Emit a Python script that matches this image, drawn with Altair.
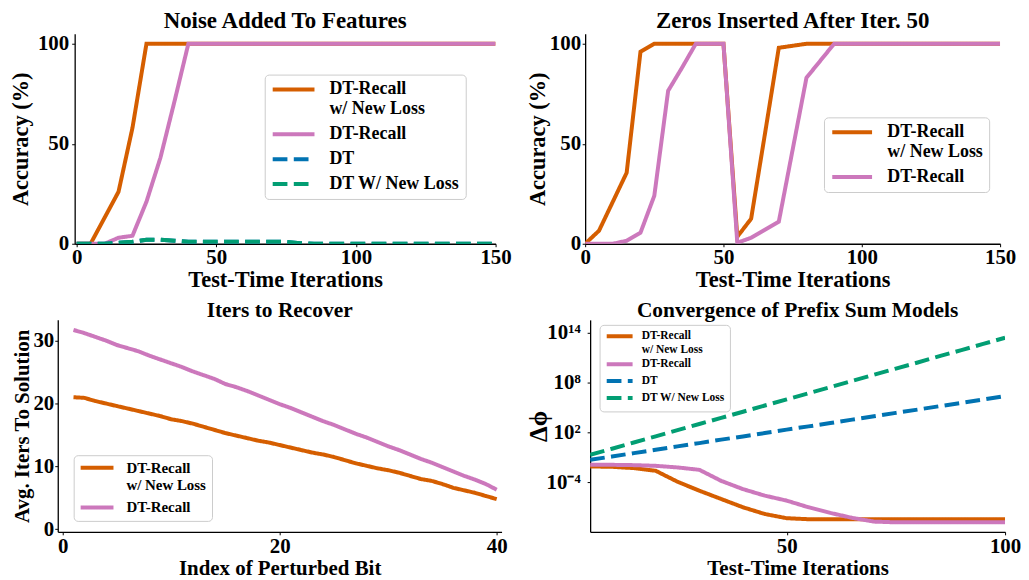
import altair as alt
import pandas as pd

FONT = "Liberation Serif"
ORANGE = "#d55e00"
PINK = "#cc78bc"
BLUE = "#0173b2"
GREEN = "#029e73"

S_RN = "DT-Recall w/ New Loss"
S_R = "DT-Recall"
S_DT = "DT"
S_DTN = "DT W/ New Loss"

# ---------- Panel 1: Noise Added To Features ----------
iters_150 = [0, 5, 10, 15, 20, 25, 30, 35, 40, 45, 50, 55, 60, 65, 70, 75, 80, 85, 90,
             95, 100, 105, 110, 115, 120, 125, 130, 135, 140, 145, 150]
noise_recall_new = [0, 0, 13, 26, 58, 100, 100, 100, 100, 100, 100, 100, 100, 100, 100, 100,
                    100, 100, 100, 100, 100, 100, 100, 100, 100, 100, 100, 100, 100, 100, 100]
noise_recall = [0, 0, 0, 3, 4, 21, 43, 71, 100, 100, 100, 100, 100, 100, 100, 100,
                100, 100, 100, 100, 100, 100, 100, 100, 100, 100, 100, 100, 100, 100, 100]
noise_dt = [0, 0, 0, 0.5, 1, 2, 2, 1.5, 1, 1, 1, 1, 1, 1, 1, 1,
            0.3, 0, 0, 0, 0, 0, 0, 0, 0, 0, 0, 0, 0, 0, 0]
noise_dt_new = [0, 0, 0, 0.5, 1, 2, 2, 1.5, 1, 1, 1, 1, 1, 1, 1, 1,
                0.3, 0, 0, 0, 0, 0, 0, 0, 0, 0, 0, 0, 0, 0, 0]

# ---------- Panel 2: Zeros Inserted After Iter. 50 ----------
zeros_recall_new = [0, 6.5, 21, 35.5, 96, 100, 100, 100, 100, 100, 100, 3.5, 12.5, 55, 98, 99,
                    100, 100, 100, 100, 100, 100, 100, 100, 100, 100, 100, 100, 100, 100, 100]
zeros_recall = [0, 0, 0, 1.5, 5.5, 24, 76.5, 88, 100, 100, 100, 0.5, 3, 7, 11, 47,
                83, 91.5, 100, 100, 100, 100, 100, 100, 100, 100, 100, 100, 100, 100, 100]

# ---------- Panel 3: Iters to Recover ----------
bit_index = list(range(1, 41))
recover_recall_new = [21.0, 20.9, 20.4, 20.0, 19.6, 19.2, 18.8, 18.4, 18.0, 17.5,
                      17.2, 16.8, 16.3, 15.8, 15.3, 14.9, 14.5, 14.1, 13.8, 13.4,
                      13.0, 12.6, 12.2, 11.9, 11.5, 11.0, 10.5, 10.1, 9.7, 9.4,
                      9.0, 8.5, 8.0, 7.7, 7.2, 6.6, 6.2, 5.8, 5.3, 4.8]
recover_recall = [31.7, 31.2, 30.6, 30.0, 29.3, 28.8, 28.3, 27.6, 27.0, 26.4,
                  25.8, 25.1, 24.5, 23.9, 23.1, 22.6, 22.0, 21.3, 20.6, 19.9,
                  19.3, 18.6, 17.9, 17.2, 16.6, 15.9, 15.2, 14.6, 13.9, 13.2,
                  12.6, 11.9, 11.2, 10.6, 9.9, 9.2, 8.5, 7.9, 7.2, 6.3]

# ---------- Panel 4: Convergence of Prefix Sum Models ----------
iters_100 = [5, 10, 15, 20, 25, 30, 35, 40, 45, 50, 55, 60, 65, 70, 75, 80, 85, 90, 95, 100]
conv_recall_new = [7.6e-3, 6.9e-3, 4.8e-3, 2.3e-3, 1.1e-4, 9.1e-6, 9.1e-7, 9.1e-8, 1.4e-8, 4.4e-9,
                   3.3e-9, 3.3e-9, 3.3e-9, 3.3e-9, 3.3e-9, 3.3e-9, 3.3e-9, 3.3e-9, 3.3e-9, 3.3e-9]
conv_recall = [1.2e-2, 1.2e-2, 1.1e-2, 9.1e-3, 5.8e-3, 3.0e-3, 1.4e-4, 1.4e-5, 2.3e-6, 5.8e-7,
               9.1e-8, 1.9e-8, 4.8e-9, 1.7e-9, 1.4e-9, 1.4e-9, 1.4e-9, 1.4e-9, 1.4e-9, 1.4e-9]
conv_dt = [4.8e-2, 1.2e-1, 3.1e-1, 7.8e-1, 2.0, 5.0, 1.3e1, 3.2e1, 8.1e1, 2.1e2,
           5.2e2, 1.3e3, 3.4e3, 8.5e3, 2.2e4, 5.5e4, 1.4e5, 3.5e5, 8.9e5, 2.3e6]
conv_dt_new = [1.9e-1, 1.05, 5.9, 3.2e1, 1.8e2, 1.0e3, 5.5e3, 3.0e4, 1.7e5, 9.3e5,
               5.1e6, 2.8e7, 1.6e8, 8.7e8, 4.8e9, 2.6e10, 1.5e11, 8.1e11, 4.5e12, 2.5e13]

COLORS = {S_RN: ORANGE, S_R: PINK, S_DT: BLUE, S_DTN: GREEN}
DASHES = {S_RN: [1, 0], S_R: [1, 0], S_DT: [14.8, 6.4], S_DTN: [14.8, 6.4]}
LABEL_EXPR = ("datum.label == 'DT-Recall w/ New Loss' ? ['DT-Recall', 'w/ New Loss'] : datum.label")
LINE_SYMBOL = "M-1,0H5"   # a horizontal stroke three symbol-widths long


def panel(x, series, xdom, ydom, w, h, title, xtitle, ytitle, xticks, yticks, leg, ax,
          ylog=False, ylabel_expr=None, xrange=None, yoffset=0, title_dx=0, clip=True):
    names = [n for n, _ in series]
    color_scale = alt.Scale(domain=names, range=[COLORS[n] for n in names])
    dash_scale = alt.Scale(domain=names, range=[DASHES[n] for n in names])
    s = leg["sym"] / 3.0
    legend = alt.Legend(
        title=None, orient="none", legendX=leg["x"], legendY=leg["y"],
        labelFont=FONT, labelFontWeight="bold", labelFontSize=leg["fs"],
        labelColor="black", labelExpr=LABEL_EXPR, labelLimit=400,
        symbolType=LINE_SYMBOL, symbolStrokeWidth=4, symbolSize=s * s,
        symbolFillColor="transparent",
        labelOffset=2 * s + leg["gap"], rowPadding=leg["row"], padding=leg["pad"],
        strokeColor="#cccccc", cornerRadius=4, fillColor="white",
    )
    ysc = (alt.Scale(domain=ydom, type="log", nice=False) if ylog
           else alt.Scale(domain=ydom, nice=False, zero=False))
    xsc_kwargs = dict(domain=xdom, nice=False, zero=False)
    if xrange is not None:
        xsc_kwargs["range"] = xrange
    yaxis_kwargs = dict(title=ytitle, values=yticks, labelFontSize=ax["lfs"], titleFontSize=ax["ytfs"],
                        minExtent=ax["yext"], maxExtent=ax["yext"], labelPadding=ax["ylp"],
                        titlePadding=ax["ytp"], offset=yoffset)
    if ylabel_expr:
        yaxis_kwargs["labelExpr"] = ylabel_expr
    layers = []
    for name, vals in series:
        df = pd.DataFrame({"x": x, "y": vals, "series": name})
        layers.append(
            alt.Chart(df).mark_line(strokeWidth=4, clip=clip).encode(
                x=alt.X("x:Q", scale=alt.Scale(**xsc_kwargs),
                        axis=alt.Axis(title=xtitle, values=xticks, labelFontSize=ax["lfs"],
                                      titleFontSize=ax["xtfs"], labelPadding=ax["xlp"],
                                      titlePadding=ax["xtp"], labelFlush=False)),
                y=alt.Y("y:Q", scale=ysc, axis=alt.Axis(**yaxis_kwargs)),
                color=alt.Color("series:N", scale=color_scale, legend=legend),
                strokeDash=alt.StrokeDash("series:N", scale=dash_scale, legend=legend),
            )
        )
    return alt.layer(*layers).properties(
        width=w, height=h,
        title=alt.Title(title, fontSize=ax["tfs"], offset=ax["toff"], dx=title_dx),
    )


AX_TOP = dict(lfs=21, xtfs=22.5, ytfs=22.5, tfs=23, toff=-0.5, xlp=0, xtp=1, ytp=1)
AX_BOT = dict(lfs=21, xtfs=21, ytfs=21, tfs=21.5, toff=-2, xlp=1, xtp=1, ytp=1)

p1 = panel(iters_150,
           [(S_RN, noise_recall_new), (S_R, noise_recall), (S_DT, noise_dt), (S_DTN, noise_dt_new)],
           [-0.7, 150], [0, 105], 423, 211, "Noise Added To Features", "Test-Time Iterations",
           "Accuracy (%)", [0, 50, 100, 150], [0, 50, 100],
           dict(x=191, y=41, fs=18, sym=42, gap=13, row=7, pad=6),
           dict(AX_TOP, yext=41, ylp=3))

p2 = panel(iters_150, [(S_RN, zeros_recall_new), (S_R, zeros_recall)],
           [0, 150], [0, 105], 417, 211, "Zeros Inserted After Iter. 50", "Test-Time Iterations",
           "Accuracy (%)", [0, 50, 100, 150], [0, 50, 100],
           dict(x=240, y=84, fs=18, sym=40, gap=13, row=7, pad=6),
           dict(AX_TOP, yext=35, ylp=1.5))

p3 = panel(bit_index, [(S_RN, recover_recall_new), (S_R, recover_recall)],
           [-0.45, 40.45], [-0.4, 33.3], 429, 213, "Iters to Recover", "Index of Perturbed Bit",
           "Avg. Iters To Solution", [0, 20, 40], [0, 10, 20, 30],
           dict(x=-1, y=136, fs=15, sym=33, gap=11, row=6, pad=5),
           dict(AX_BOT, yext=24, ylp=1), xrange=[-17, 429], yoffset=17, title_dx=-8.5, clip=False)

p4 = panel(iters_100, [(S_RN, conv_recall_new), (S_R, conv_recall), (S_DT, conv_dt), (S_DTN, conv_dt_new)],
           [5, 100], [1e-10, 3.6e15], 417, 213, "Convergence of Prefix Sum Models", "Test-Time Iterations",
           "\u0394\u03d5", [50, 100], [1e-4, 1e2, 1e8, 1e14],
           dict(x=9.5, y=5, fs=11.5, sym=26, gap=7, row=0, pad=5),
           dict(AX_BOT, yext=38, ylp=7, ytfs=25), ylog=True,
           ylabel_expr=("datum.value < 1e-3 ? '10\u207b\u2074' : datum.value < 1e3 ? '10\u00b2' : "
                        "datum.value < 1e9 ? '10\u2078' : '10\u00b9\u2074'"))

RES = dict(color="independent", strokeDash="independent")
chart = alt.concat(
    p1, p2, p3, p4, columns=2, align="none",
    spacing=alt.RowColnumber(row=8.5, column=8),
).resolve_scale(**RES).resolve_legend(**RES).configure(
    font=FONT, padding={"left": 2, "top": 0.5, "right": 0, "bottom": 0}
).configure_view(stroke=None).configure_axis(
    grid=False, labelFont=FONT, titleFont=FONT, labelFontWeight="bold", titleFontWeight="bold",
    labelColor="black", titleColor="black", domainColor="black", domainWidth=1.3,
    tickColor="black", tickSize=3, tickWidth=1,
).configure_title(font=FONT, fontWeight="bold", color="black", anchor="middle")

chart.save("out.html", embed_options={"renderer": "svg", "actions": False})
